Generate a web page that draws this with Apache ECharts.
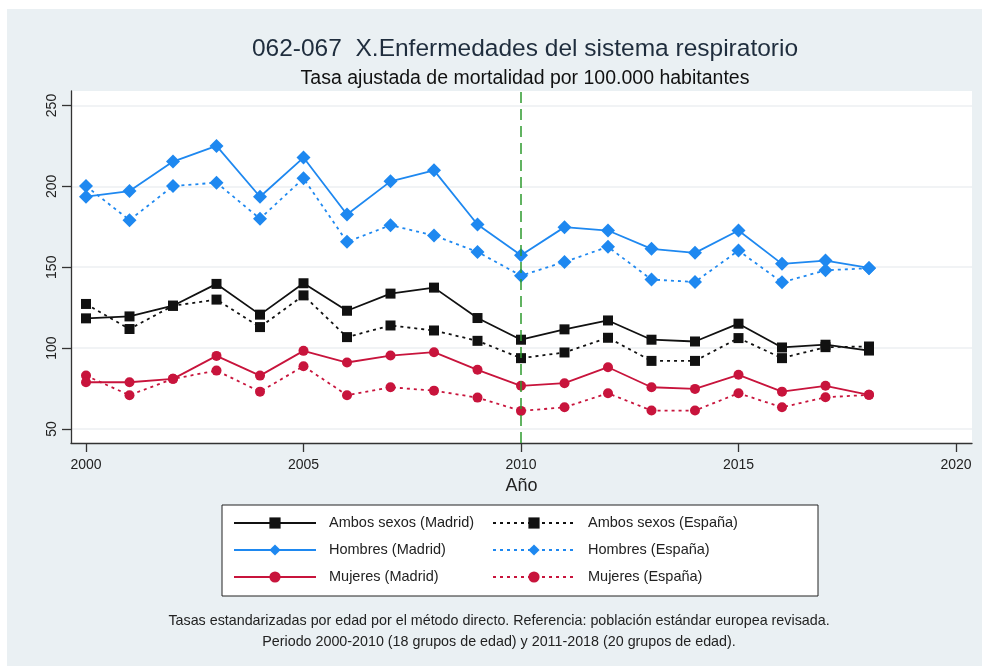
<!DOCTYPE html>
<html><head><meta charset="utf-8">
<script src="https://cdn.jsdelivr.net/npm/echarts@6/dist/echarts.min.js"></script>
<style>html,body{margin:0;padding:0;background:#fff}#c{width:982px;height:666px}</style>
</head><body><div id="c"></div>
<script>
const years = [2000,2001,2002,2003,2004,2005,2006,2007,2008,2009,2010,2011,2012,2013,2014,2015,2016,2017,2018];
const ambosMadrid   = [118.4,119.6,126.2,139.7,120.7,140.1,123.1,133.7,137.4,118.6,105.2,111.6,117.1,105.2,104.1,115.1,100.4,102.1,98.5];
const ambosEspana   = [127.3,111.8,126.2,130.0,113.0,132.6,106.8,114.0,110.9,104.5,93.8,97.3,106.4,92.1,92.1,106.2,93.8,100.6,101.0];
const hombresMadrid = [193.6,197.1,215.3,225.0,193.6,217.8,182.6,203.1,209.9,176.4,157.4,174.8,172.7,161.4,158.9,172.7,152.1,154.1,149.6];
const hombresEspana = [200.2,179.1,200.2,202.3,180.0,205.0,165.7,176.0,169.6,159.5,144.8,153.3,162.6,142.4,140.9,160.3,140.7,148.1,149.4];
const mujeresMadrid = [78.9,78.9,81.0,95.2,83.0,98.3,91.1,95.4,97.5,86.6,76.7,78.3,88.2,75.8,74.8,83.5,73.1,76.7,71.1];
const mujeresEspana = [83.0,70.9,81.0,86.1,73.1,88.8,70.9,75.8,73.7,69.4,61.2,63.4,72.1,61.4,61.4,72.1,63.4,69.6,71.1];
const xTicks = [2000,2005,2010,2015,2020];
const yTicks = [50,100,150,200,250];
const refYear = 2010;
const names = ['Ambos sexos (Madrid)','Ambos sexos (España)','Hombres (Madrid)','Hombres (España)','Mujeres (Madrid)','Mujeres (España)'];
const titleText = '062-067  X.Enfermedades del sistema respiratorio';
const subtitleText = 'Tasa ajustada de mortalidad por 100.000 habitantes';
const footerText = 'Tasas estandarizadas por edad por el método directo. Referencia: población estándar europea revisada.\nPeriodo 2000-2010 (18 grupos de edad) y 2011-2018 (20 grupos de edad).';

const FF = '"Liberation Sans", Arial, sans-serif';
const BLACK = '#111111', BLUE = '#1e88f0', RED = '#c8143c';
const pts = arr => years.map((y, i) => [y, arr[i]]);
function mk(name, arr, color, symbol, size, dotted) {
  return {
    name, type: 'line', data: pts(arr), symbol, symbolSize: size,
    lineStyle: { color, width: 1.8, type: dotted ? [3, 4] : 'solid' },
    itemStyle: { color },
    z: dotted ? 3 : 4
  };
}
const series = [
  mk(names[1], ambosEspana, BLACK, 'rect', 10, true),
  mk(names[3], hombresEspana, BLUE, 'diamond', 14, true),
  mk(names[5], mujeresEspana, RED, 'circle', 10, true),
  mk(names[0], ambosMadrid, BLACK, 'rect', 10, false),
  mk(names[2], hombresMadrid, BLUE, 'diamond', 14, false),
  mk(names[4], mujeresMadrid, RED, 'circle', 10, false)
];
series.push({
  type: 'line', data: [], silent: true, z: 2,
  markLine: {
    silent: true, symbol: 'none', label: { show: false },
    lineStyle: { color: '#2e9a2e', type: [11, 6], width: 1.5, opacity: 1 },
    itemStyle: { color: '#2e9a2e' },
    emphasis: { disabled: true },
    data: [{ xAxis: refYear, lineStyle: { color: '#2e9a2e' } }]
  }
});

const chart = echarts.init(document.getElementById('c'));
chart.setOption({
  backgroundColor: '#ffffff',
  animation: false,
  textStyle: { fontFamily: FF },
  graphic: { elements: [{ type: 'rect', z: -100, silent: true, shape: { x: 7, y: 9, width: 975, height: 657 }, style: { fill: '#eaf0f3' } }] },
  title: [
    { text: titleText, left: 520, top: 32, textAlign: 'center', textStyle: { fontFamily: FF, fontSize: 24.5, fontWeight: 'normal', color: '#1f2d3d' } },
    { text: subtitleText, left: 520, top: 64, textAlign: 'center', textStyle: { fontFamily: FF, fontSize: 19.5, fontWeight: 'normal', color: '#111' } },
    { text: footerText, left: 494, top: 606, textAlign: 'center', textStyle: { fontFamily: FF, fontSize: 14.3, lineHeight: 21, fontWeight: 'normal', color: '#222' } }
  ],
  grid: { left: 71, right: 10, top: 91, bottom: 223, show: true, backgroundColor: '#ffffff', borderWidth: 0 },
  xAxis: {
    type: 'value', min: 1999.655, max: 2020.368,
    name: 'Año', nameLocation: 'middle', nameGap: 31,
    nameTextStyle: { fontFamily: FF, fontSize: 18, color: '#222' },
    axisLine: { show: true, lineStyle: { color: '#333', width: 1.3 } },
    axisTick: { show: true, length: 9, customValues: xTicks, lineStyle: { color: '#333', width: 1.3 } },
    axisLabel: { customValues: xTicks, formatter: v => String(v), margin: 15, fontSize: 14, color: '#222', fontFamily: FF },
    splitLine: { show: false }
  },
  yAxis: {
    type: 'value', min: 41.34, max: 258.96,
    axisLine: { show: true, lineStyle: { color: '#333', width: 1.3 } },
    axisTick: { show: true, length: 9, customValues: yTicks, lineStyle: { color: '#333', width: 1.3 } },
    axisLabel: { customValues: yTicks, formatter: v => String(v), rotate: 90, margin: 12, fontSize: 14, color: '#222', fontFamily: FF },
    splitLine: { show: true, lineStyle: { color: '#eceff2', width: 1.5 } }
  },
  legend: {
    left: 222, top: 505, width: 620,
    padding: [10, 78, 11, 11],
    backgroundColor: '#ffffff', borderColor: '#222', borderWidth: 1, borderRadius: 0,
    itemWidth: 82, itemHeight: 14, itemGap: 11,
    textStyle: { fontFamily: FF, fontSize: 14.5, color: '#222', width: 152, padding: [0, 0, 0, 8], lineHeight: 16 },
    data: names
  },
  series
});
</script></body></html>
